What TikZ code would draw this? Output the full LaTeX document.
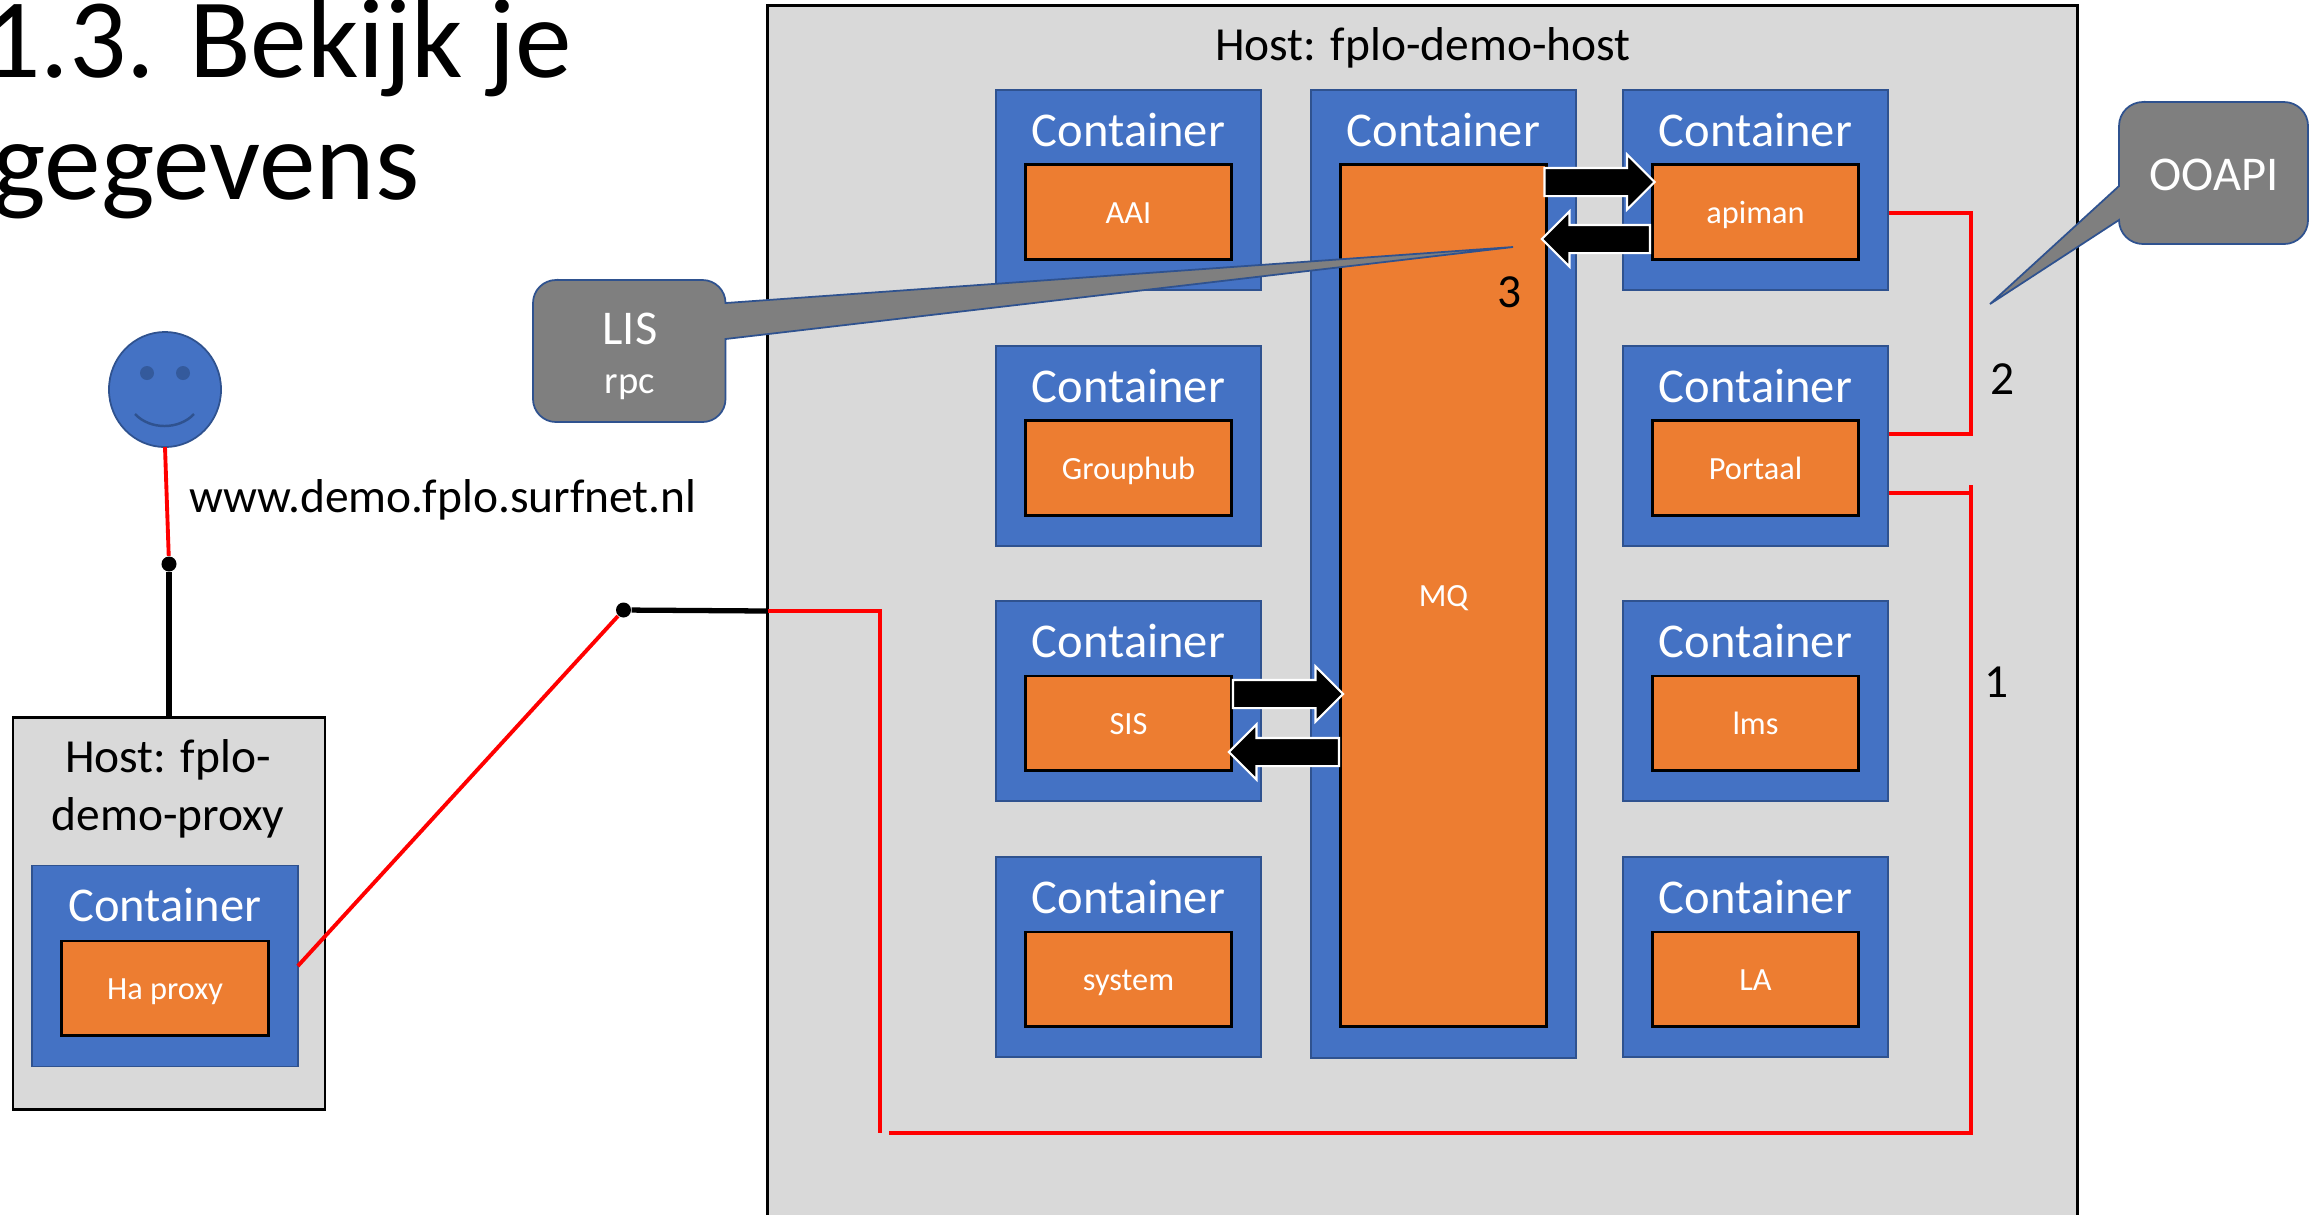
\documentclass[tikz,border=0pt]{standalone}
\usepackage{fontspec}
\setmainfont{Carlito}
\usetikzlibrary{shapes.arrows,shapes.geometric}

\definecolor{hostgray}{HTML}{D9D9D9}
\definecolor{contblue}{HTML}{4472C4}
\definecolor{edgeblue}{HTML}{2F528F}
\definecolor{apporange}{HTML}{ED7D31}
\definecolor{callgray}{HTML}{7F7F7F}

\tikzset{
    hostbox/.style={draw=black,line width=0.7pt,fill=hostgray,inner sep=0pt,outer sep=0pt},
    contbox/.style={draw=edgeblue,line width=0.5pt,fill=contblue,inner sep=0pt,outer sep=0pt,minimum width=2.655cm},
    appbox/.style={draw=black,line width=0.85pt,fill=apporange,inner sep=0pt,outer sep=0pt,minimum width=2.06cm,
        text=white,text height=0.63em,text depth=0pt,font=\fontsize{9.2}{11}\selectfont},
    conttext/.style={text=white,font=\fontsize{13.8}{16}\selectfont},
    hosttext/.style={font=\fontsize{13.5}{16.4}\selectfont},
    numtext/.style={font=\fontsize{13.5}{16}\selectfont},
    titletext/.style={font=\fontsize{32.2}{35}\selectfont,inner sep=0pt},
    calltext/.style={text=white,font=\fontsize{13.8}{16}\selectfont},
    callbox/.style={draw=edgeblue,line width=0.5pt,fill=callgray},
    redline/.style={draw=red,line width=1.1pt},
    blackline/.style={draw=black,line width=1.5pt},
    junction/.style={circle,fill=black,inner sep=0pt,minimum size=0.15cm},
    blockarrow/.style={single arrow,draw=white,line width=0.6pt,fill=black,inner xsep=0pt,inner ysep=0.13cm,
        single arrow head extend=0.135cm,single arrow head indent=0pt,outer sep=0pt},
}

\begin{document}
\begin{tikzpicture}[x=0.01cm,y=-0.01cm]
    \clip (0,0) rectangle (2310,1214);
    \fill[white] (0,0) rectangle (2310,1214);
    % Title
    \node[titletext,anchor=base east] (title1) at (573,77) {1.3. Bekijk je};
    \node[titletext,anchor=base east] (title2) at (420,199) {gegevens};
    % Main host
    \node[hostbox,minimum width=13.095cm,minimum height=12.3cm] (hostmain) at (1422.5,621) {};
    \node[hosttext] (hostmainname) at (1423,48) {Host: fplo-demo-host};
    % Containers
    \node[contbox,minimum height=9.68cm] (cmq) at (1443.5,574) {};
    \node[conttext] at (1443.5,130) {Container};
    \node[appbox,minimum height=8.61cm] (mq) at (1443.5,595.5) {MQ};
    \foreach \name/\label/\x/\y in {aai/AAI/1128.5/190,grouphub/Grouphub/1128.5/446,sis/SIS/1128.5/701,system/system/1128.5/957,
        apiman/apiman/1755.5/190,portaal/Portaal/1755.5/446,lms/lms/1755.5/701,la/LA/1755.5/957} {
        \node[contbox,minimum height=2cm] (c\name) at (\x,\y) {};
        \node[conttext] at (\x,\y-60) {Container};
        \node[appbox,minimum height=0.94cm] (\name) at (\x,\y+22) {\label};
    }
    % Proxy host
    \node[hostbox,minimum width=3.115cm,minimum height=3.92cm] (hostproxy) at (169,913.5) {};
    \node[hosttext,align=center] (hostproxyname) at (168,789) {Host: fplo-\\demo-proxy};
    \node[contbox,minimum height=2.01cm] (cproxy) at (165,966) {};
    \node[conttext] at (165,905) {Container};
    \node[appbox,minimum height=0.94cm] (proxy) at (165,988) {Ha proxy};
    % User
    \node[draw=edgeblue,line width=0.5pt,fill=contblue,ellipse,inner sep=0pt,outer sep=0pt,
        minimum width=1.12cm,minimum height=1.15cm] (user) at (165,389.5) {};
    \fill[edgeblue!75!contblue] (147,373) circle (7);
    \fill[edgeblue!75!contblue] (183,373) circle (7);
    \draw[edgeblue,line width=0.7pt] (135,414) .. controls (150,430) and (179,430) .. (194,414);
    \node[hosttext] (url) at (443,500) {www.demo.fplo.surfnet.nl};
    % Lines
    \node[junction] (dotuser) at (169,564) {};
    \node[junction] (dotproxy) at (623.5,610) {};
    \coordinate (entry) at (767.5,611);
    \coordinate (down) at (880,1133);
    \coordinate (bottomstart) at (889,1133);
    \coordinate (corner) at (1971,1133);
    \coordinate (portaaltop) at (1971,485);
    \coordinate (portaalout) at (1889,493);
    \coordinate (portaalup) at (1889,434);
    \coordinate (apimanout) at (1889,213);
    \coordinate (bend) at (1971,213);
    \draw[redline] (user.south) -- (dotuser);
    \draw[blackline] (dotuser) -- (dotuser |- hostproxy.north);
    \draw[redline] (cproxy.east) -- (dotproxy);
    \draw[blackline] (dotproxy) -- (entry);
    \draw[redline] (entry) -| (down);
    \draw[redline] (bottomstart) -- (corner) -- (portaaltop);
    \draw[redline] (portaalout) -- (portaalout -| corner);
    \draw[redline] (apimanout) -- (bend) |- (portaalup);
    \node[numtext] (num1) at (1996,682) {1};
    \node[numtext] (num2) at (2002,379) {2};
    % Arrows between containers
    \node[blockarrow,minimum height=1.1cm] (mqtoapi) at (1592.5,182) {};
    \node[blockarrow,minimum height=1.08cm,shape border rotate=180] (apitomq) at (1603,239) {};
    \node[blockarrow,minimum height=1.1cm] (sistomq) at (1281,694) {};
    \node[blockarrow,minimum height=1.1cm,shape border rotate=180] (mqtosis) at (1291,752) {};
    % Callouts
    \draw[callbox] (556,280) -- (702.5,280) arc[start angle=90,end angle=0,radius=0.23cm] -- (1513,247) -- (725.5,339)
        -- (725.5,399) arc[start angle=0,end angle=-90,radius=0.23cm] -- (556,422)
        arc[start angle=-90,end angle=-180,radius=0.23cm] -- (533,303) arc[start angle=180,end angle=90,radius=0.23cm] -- cycle;
    \node[calltext] (lis) at (630,329) {LIS};
    \node[calltext,font=\fontsize{11}{13}\selectfont] (rpc) at (630,387) {rpc};
    \draw[callbox] (2143,102) -- (2284,102) arc[start angle=90,end angle=0,radius=0.24cm] -- (2308,220)
        arc[start angle=0,end angle=-90,radius=0.24cm] -- (2143,244) arc[start angle=-90,end angle=-180,radius=0.24cm]
        -- (1990,304) -- (2119,186) -- (2119,126) arc[start angle=180,end angle=90,radius=0.24cm] -- cycle;
    \node[calltext] (ooapi) at (2214,175) {OOAPI};
    \node[numtext] (num3) at (1510,292) {3};
\end{tikzpicture}
\end{document}
